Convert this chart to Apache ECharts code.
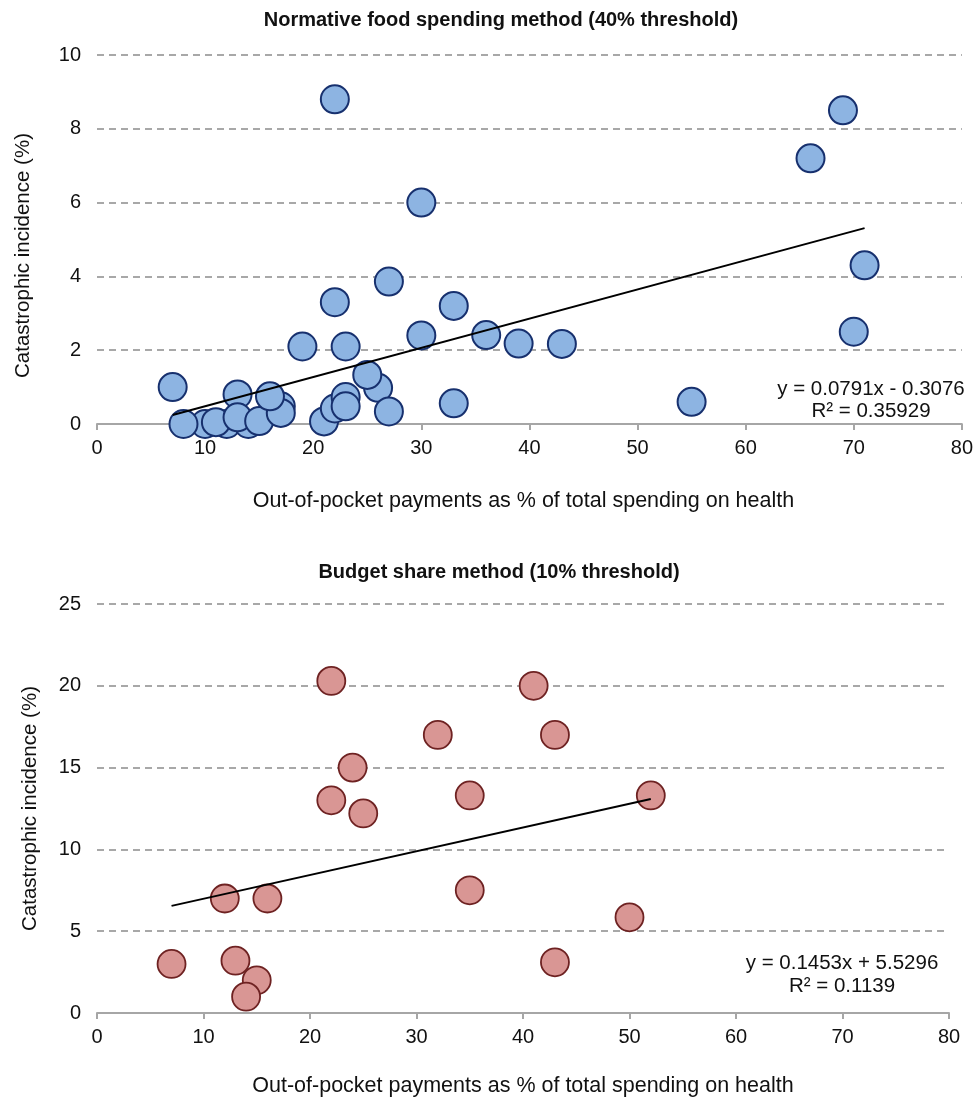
<!DOCTYPE html>
<html><head><meta charset="utf-8">
<script src="https://cdn.jsdelivr.net/npm/echarts/dist/echarts.min.js"></script>
<style>html,body{margin:0;padding:0;background:#fff}#c{width:976px;height:1101px}</style>
</head><body><div id="c"></div>
<script>
const topTitle = "Normative food spending method (40% threshold)";
const bottomTitle = "Budget share method (10% threshold)";
const xAxisName = "Out-of-pocket payments as % of total spending on health";
const yAxisName = "Catastrophic incidence (%)";

const topX = [7,10,8,12,14,11,13,13,15,17,17,16,19,21,22,22,22,23,23,23,26,25,27,27,30,30,33,33,36,39,43,55,66,69,70,71];
const topY = [1.0,0,0,0,0,0.05,0.8,0.18,0.08,0.48,0.3,0.75,2.1,0.07,0.42,3.3,8.8,0.73,0.48,2.1,0.98,1.33,0.34,3.86,6.0,2.4,3.2,0.56,2.41,2.18,2.17,0.6,7.2,8.5,2.5,4.3];

const bottomX = [7,12,15,13,14,16,22,22,24,25,32,35,35,41,43,43,50,52];
const bottomY = [3,7,2,3.2,1,7,20.3,13,15,12.2,17,13.3,7.5,20,17,3.1,5.85,13.3];

const topTrend = [[7,0.246],[71,5.309]];
const bottomTrend = [[7,6.547],[52,13.085]];
const topEquation = ["y = 0.0791x - 0.3076","R² = 0.35929"];
const bottomEquation = ["y = 0.1453x + 5.5296","R² = 0.1139"];

const xTicks = {min:0,max:80,interval:10};
const topYTicks = {min:0,max:10,interval:2};
const bottomYTicks = {min:0,max:25,interval:5};

const FONT = "Liberation Sans, Arial, sans-serif";
const TXT = "#111";

function pairs(xs, ys){ return xs.map((x,i)=>[x, ys[i]]); }

function xAxis(gridIndex, gap, pad){
  return {
    gridIndex, type:'value', min:xTicks.min, max:xTicks.max, interval:xTicks.interval,
    name:xAxisName, nameLocation:'middle', nameGap:gap,
    nameTextStyle:{fontFamily:FONT,fontSize:21.5,color:TXT,padding:pad},
    axisLine:{show:true,onZero:false,lineStyle:{color:'#a6a6a6',width:2}},
    axisTick:{show:true,length:6,lineStyle:{color:'#a6a6a6',width:2}},
    axisLabel:{fontFamily:FONT,fontSize:20,color:TXT,margin:14},
    splitLine:{show:false}
  };
}
function yAxis(gridIndex, ticks, gap, pad){
  return {
    gridIndex, type:'value', min:ticks.min, max:ticks.max, interval:ticks.interval,
    name:yAxisName, nameLocation:'middle', nameGap:gap,
    nameTextStyle:{fontFamily:FONT,fontSize:20.5,color:TXT,padding:pad},
    axisLine:{show:false}, axisTick:{show:false},
    axisLabel:{fontFamily:FONT,fontSize:20,color:TXT,margin:16},
    splitLine:{show:true,lineStyle:{color:'#8c8c8c',width:1.5,type:[7,5]}}
  };
}

const option = {
  animation:false,
  backgroundColor:'#fff',
  title:[
    {text:topTitle,left:496,top:5,textAlign:'center',textStyle:{fontFamily:FONT,fontSize:20,fontWeight:'bold',color:TXT}},
    {text:bottomTitle,left:494,top:557,textAlign:'center',textStyle:{fontFamily:FONT,fontSize:20,fontWeight:'bold',color:TXT}},
    {text:topEquation.join('\n'),left:866,top:373,textAlign:'center',textStyle:{fontFamily:FONT,fontSize:20.5,fontWeight:'normal',color:TXT,lineHeight:22}},
    {text:bottomEquation.join('\n'),left:837,top:947,textAlign:'center',textStyle:{fontFamily:FONT,fontSize:20.5,fontWeight:'normal',color:TXT,lineHeight:23}}
  ],
  grid:[
    {left:97,right:11,top:55,height:369},
    {left:97,right:27,top:604,height:409}
  ],
  xAxis:[xAxis(0,66,[0,12,0,0]), xAxis(1,62,[0,0,0,0])],
  yAxis:[yAxis(0,topYTicks,63,[0,32,0,0]), yAxis(1,bottomYTicks,56,[0,0,0,0])],
  series:[
    {type:'scatter',xAxisIndex:0,yAxisIndex:0,data:pairs(topX,topY),symbolSize:28,z:2,
      itemStyle:{color:'#8db4e2',borderColor:'#17306e',borderWidth:2,opacity:1}},
    {type:'line',xAxisIndex:0,yAxisIndex:0,data:topTrend,symbol:'none',z:3,
      lineStyle:{color:'#000',width:2}},
    {type:'scatter',xAxisIndex:1,yAxisIndex:1,data:pairs(bottomX,bottomY),symbolSize:28,z:2,
      itemStyle:{color:'#d99694',borderColor:'#6e2222',borderWidth:1.8,opacity:1}},
    {type:'line',xAxisIndex:1,yAxisIndex:1,data:bottomTrend,symbol:'none',z:3,
      lineStyle:{color:'#000',width:2}}
  ]
};
const chart = echarts.init(document.getElementById('c'),null,{renderer:'canvas'});
chart.setOption(option);
</script></body></html>
